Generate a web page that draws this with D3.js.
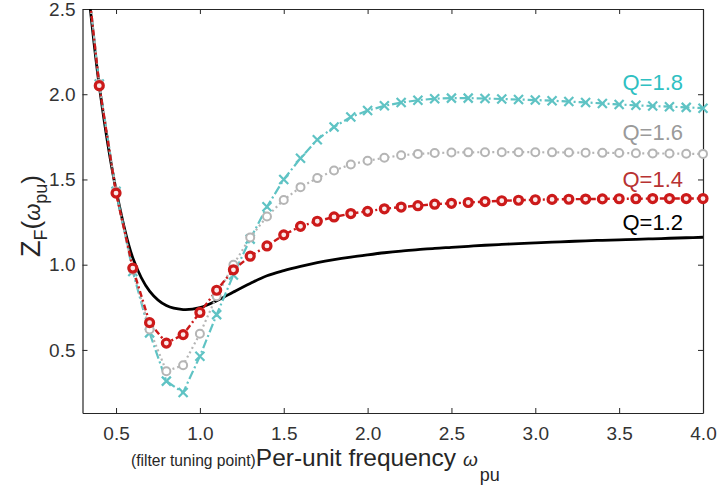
<!DOCTYPE html>
<html>
<head>
<meta charset="utf-8">
<script src="https://cdn.jsdelivr.net/npm/d3@7"></script>
<style>
  body { margin: 0; background: #fff; }
  svg { display: block; font-family: "Liberation Sans", Arial, sans-serif; }
</style>
</head>
<body>
<svg id="chart" width="717" height="486"></svg>
<script>
// per-unit frequency grid (marker positions)
const freq = [0.3, 0.4, 0.5, 0.6, 0.7, 0.8, 0.9, 1.0, 1.1, 1.2, 1.3, 1.4, 1.5, 1.6, 1.7, 1.8, 1.9,
  2.0, 2.1, 2.2, 2.3, 2.4, 2.5, 2.6, 2.7, 2.8, 2.9, 3.0, 3.1, 3.2, 3.3, 3.4, 3.5, 3.6, 3.7, 3.8, 3.9, 4.0];

// impedance magnitude for each quality factor
const z_q12 = [2.95, 2.05, 1.44, 1.04, 0.845, 0.76, 0.737, 0.748, 0.788, 0.84, 0.89, 0.935, 0.965, 0.99, 1.012, 1.03, 1.045,
  1.058, 1.07, 1.08, 1.088, 1.096, 1.102, 1.108, 1.114, 1.119, 1.124, 1.128, 1.132, 1.136, 1.14, 1.143, 1.146, 1.149, 1.152, 1.155, 1.158, 1.161];
const z_q14 = [2.95, 2.05, 1.42, 0.98, 0.66, 0.54, 0.59, 0.72, 0.85, 0.97, 1.05, 1.11, 1.175, 1.225, 1.255, 1.28, 1.30,
  1.313, 1.328, 1.338, 1.346, 1.355, 1.36, 1.365, 1.37, 1.375, 1.378, 1.381, 1.383, 1.384, 1.385, 1.386, 1.387, 1.387, 1.388, 1.388, 1.388, 1.388];
const z_q16 = [2.95, 2.06, 1.43, 0.97, 0.62, 0.375, 0.41, 0.595, 0.815, 1.0, 1.16, 1.283, 1.38, 1.455, 1.508, 1.553, 1.588,
  1.61, 1.627, 1.642, 1.65, 1.655, 1.658, 1.659, 1.66, 1.66, 1.66, 1.66, 1.659, 1.658, 1.657, 1.656, 1.655, 1.654, 1.653, 1.652, 1.651, 1.65];
const z_q18 = [2.95, 2.06, 1.43, 0.96, 0.60, 0.317, 0.25, 0.463, 0.707, 0.94, 1.15, 1.34, 1.50, 1.625, 1.733, 1.808, 1.866,
  1.904, 1.932, 1.951, 1.965, 1.974, 1.977, 1.977, 1.975, 1.972, 1.969, 1.966, 1.962, 1.957, 1.952, 1.946, 1.940, 1.935, 1.931, 1.927, 1.923, 1.918];

const x_ticks = [0.5, 1.0, 1.5, 2.0, 2.5, 3.0, 3.5, 4.0];
const y_ticks = [0.5, 1.0, 1.5, 2.0, 2.5];

const series = [
  { name: 'Q=1.2', values: z_q12, color: '#000000', text: '#000000', dash: null, width: 2.8, marker: 'none', label_y: 1.205 },
  { name: 'Q=1.8', values: z_q18, color: '#5fc3c4', text: '#2fc0c2', dash: '9,3,2,3', width: 2.2, marker: 'x', label_y: 2.025 },
  { name: 'Q=1.6', values: z_q16, color: '#b5b5b5', text: '#9a9a9a', dash: '2,3', width: 2.2, marker: 'o', label_y: 1.73 },
  { name: 'Q=1.4', values: z_q14, color: '#cc1a1a', text: '#b83232', dash: '6,3,2,3', width: 2.4, marker: 'o', label_y: 1.455 }
];

// chart geometry
const plot_left = 82.5, plot_right = 703, plot_top = 9, plot_bottom = 413;

let svg = d3.select('#chart');

let x_scale = d3.scaleLinear().domain([0.3, 4.0]).range([plot_left, plot_right]);
let y_scale = d3.scaleLinear().domain([0.13, 2.5]).range([plot_bottom, plot_top]);

svg.append('defs').append('clipPath').attr('id', 'plot_clip')
  .append('rect')
  .attr('x', plot_left).attr('y', plot_top)
  .attr('width', plot_right - plot_left).attr('height', plot_bottom - plot_top);

// axes, ticks pointing inward like a boxed plot
const axis_color = '#262626';
let styleAxis = (g) => {
  g.select('.domain').attr('stroke', axis_color).attr('stroke-width', 1.2);
  g.selectAll('.tick line').attr('stroke', axis_color).attr('stroke-width', 1);
  g.selectAll('.tick text').attr('fill', '#333').style('font-size', '19px')
    .style('font-family', '"Liberation Sans", Arial, sans-serif');
};

svg.append('g')
  .attr('transform', `translate(0, ${plot_bottom})`)
  .call(d3.axisBottom(x_scale).tickValues(x_ticks).tickFormat(d3.format('.1f'))
    .tickSizeInner(-5).tickSizeOuter(0).tickPadding(14))
  .call(styleAxis);

svg.append('g')
  .attr('transform', `translate(0, ${plot_top})`)
  .call(d3.axisTop(x_scale).tickValues(x_ticks).tickFormat('')
    .tickSizeInner(-5).tickSizeOuter(0))
  .call(styleAxis);

svg.append('g')
  .attr('transform', `translate(${plot_left}, 0)`)
  .call(d3.axisLeft(y_scale).tickValues(y_ticks).tickFormat(d3.format('.1f'))
    .tickSizeInner(-5).tickSizeOuter(0).tickPadding(7))
  .call(styleAxis);

svg.append('g')
  .attr('transform', `translate(${plot_right}, 0)`)
  .call(d3.axisRight(y_scale).tickValues(y_ticks).tickFormat('')
    .tickSizeInner(-5).tickSizeOuter(0))
  .call(styleAxis);

// curves
let plot = svg.append('g').attr('clip-path', 'url(#plot_clip)');

for (const s of series) {
  let pts = freq.map((f, i) => [f, s.values[i]]);
  let line = d3.line()
    .x((d) => x_scale(d[0]))
    .y((d) => y_scale(d[1]))
    .curve(s.marker == 'none' ? d3.curveCatmullRom : d3.curveLinear);

  plot.append('path')
    .datum(pts)
    .attr('d', line)
    .attr('fill', 'none')
    .attr('stroke', s.color)
    .attr('stroke-width', s.width)
    .attr('stroke-dasharray', s.dash);

  let shown = pts.filter((d) => d[1] <= 2.5);
  if (s.marker == 'x') {
    svg.append('g').selectAll('path')
      .data(shown).enter().append('path')
      .attr('d', 'M-4.5,-4.5L4.5,4.5M-4.5,4.5L4.5,-4.5')
      .attr('transform', (d) => `translate(${x_scale(d[0])}, ${y_scale(d[1])})`)
      .attr('stroke', s.color).attr('stroke-width', 2.2).attr('fill', 'none');
  } else if (s.marker == 'o') {
    let red = s.name == 'Q=1.4';
    svg.append('g').selectAll('circle')
      .data(shown).enter().append('circle')
      .attr('cx', (d) => x_scale(d[0]))
      .attr('cy', (d) => y_scale(d[1]))
      .attr('r', 4)
      .attr('fill', red ? '#fbe9e9' : '#fff')
      .attr('stroke', s.color)
      .attr('stroke-width', red ? 3.2 : 2);
  }

  svg.append('text')
    .attr('x', 683)
    .attr('y', y_scale(s.label_y))
    .attr('text-anchor', 'end')
    .style('font-size', '22px')
    .style('fill', s.text)
    .text(s.name);
}

// x axis label
let xl = svg.append('text').attr('x', 131).attr('y', 466).attr('fill', '#262626');
xl.append('tspan').style('font-size', '15.6px').text('(filter tuning point)');
xl.append('tspan').style('font-size', '24.5px').text('Per-unit frequency');
xl.append('tspan').attr('dx', 7).style('font-size', '19px').style('font-style', 'italic').text('ω');
xl.append('tspan').attr('dx', 2).attr('dy', 15).style('font-size', '18px').text('pu');

// y axis label
let yl = svg.append('text')
  .attr('transform', 'translate(40, 216) rotate(-90)')
  .attr('text-anchor', 'middle')
  .attr('fill', '#262626');
yl.append('tspan').style('font-size', '27px').text('Z');
yl.append('tspan').attr('dy', 7).style('font-size', '18px').text('F');
yl.append('tspan').attr('dy', -7).style('font-size', '26px').text('(');
yl.append('tspan').style('font-size', '22px').style('font-style', 'italic').text('ω');
yl.append('tspan').attr('dy', 7).style('font-size', '18px').text('pu');
yl.append('tspan').attr('dy', -7).style('font-size', '26px').text(')');
</script>
</body>
</html>
